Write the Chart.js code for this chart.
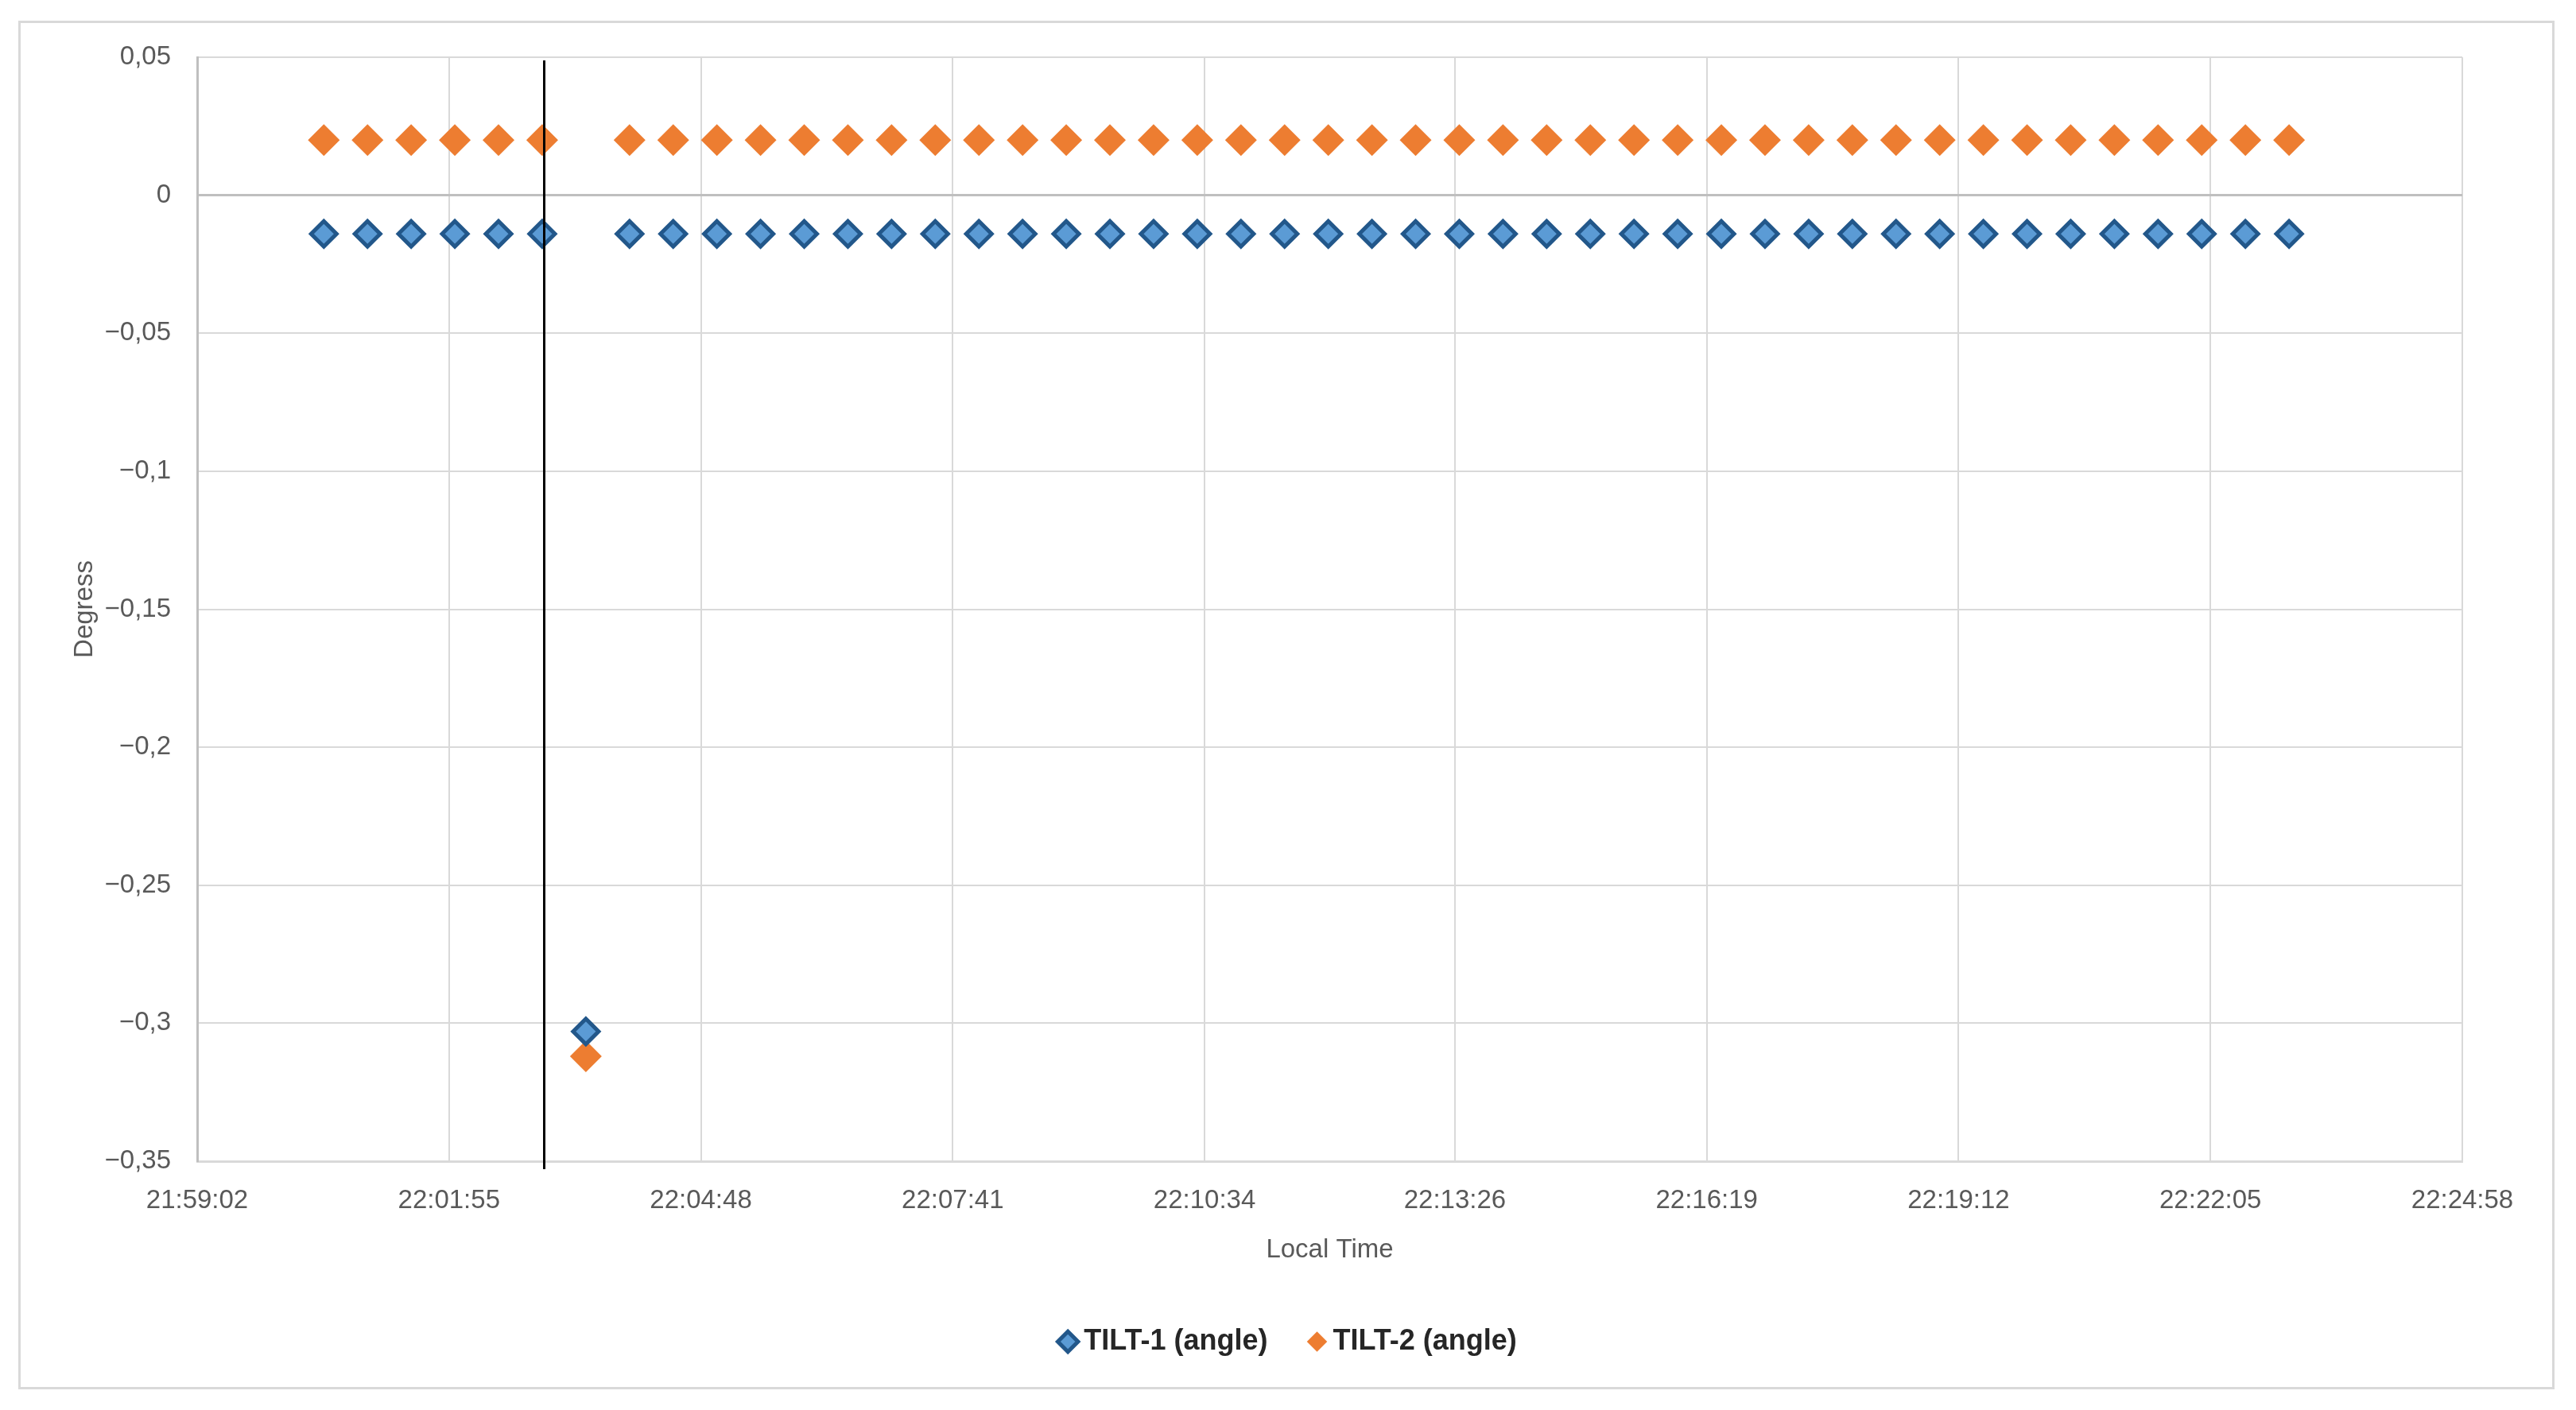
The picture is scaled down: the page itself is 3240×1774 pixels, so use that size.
<!DOCTYPE html>
<html>
<head>
<meta charset="utf-8">
<script src="https://cdn.jsdelivr.net/npm/chart.js@4.4.1/dist/chart.umd.min.js"></script>
<style>
  html, body { margin: 0; padding: 0; background: #fff; }
  canvas { display: block; }
</style>
</head>
<body>
<canvas id="myChart" width="3240" height="1774"></canvas>
<script>
// Hora local de cada lectura
const times = [
  '22:00:29', '22:00:59', '22:01:29', '22:01:59', '22:02:29', '22:02:59',
  '22:03:29', '22:03:59', '22:04:29', '22:04:59', '22:05:29', '22:05:59',
  '22:06:29', '22:06:59', '22:07:29', '22:07:59', '22:08:29', '22:08:59',
  '22:09:29', '22:09:59', '22:10:29', '22:10:59', '22:11:29', '22:11:59',
  '22:12:29', '22:12:59', '22:13:29', '22:13:59', '22:14:29', '22:14:59',
  '22:15:29', '22:15:59', '22:16:29', '22:16:59', '22:17:29', '22:17:59',
  '22:18:29', '22:18:59', '22:19:29', '22:19:59', '22:20:29', '22:20:59',
  '22:21:29', '22:21:59', '22:22:29', '22:22:59',
]

// Lecturas de los inclinómetros (grados)
const tilt1 = [
  -0.014, -0.014, -0.014, -0.014, -0.014, -0.014,
  -0.303, -0.014, -0.014, -0.014, -0.014, -0.014,
  -0.014, -0.014, -0.014, -0.014, -0.014, -0.014,
  -0.014, -0.014, -0.014, -0.014, -0.014, -0.014,
  -0.014, -0.014, -0.014, -0.014, -0.014, -0.014,
  -0.014, -0.014, -0.014, -0.014, -0.014, -0.014,
  -0.014, -0.014, -0.014, -0.014, -0.014, -0.014,
  -0.014, -0.014, -0.014, -0.014,
]
const tilt2 = [
  0.02, 0.02, 0.02, 0.02, 0.02, 0.02,
  -0.312, 0.02, 0.02, 0.02, 0.02, 0.02,
  0.02, 0.02, 0.02, 0.02, 0.02, 0.02,
  0.02, 0.02, 0.02, 0.02, 0.02, 0.02,
  0.02, 0.02, 0.02, 0.02, 0.02, 0.02,
  0.02, 0.02, 0.02, 0.02, 0.02, 0.02,
  0.02, 0.02, 0.02, 0.02, 0.02, 0.02,
  0.02, 0.02, 0.02, 0.02,
]

// Etiquetas de los ejes
const xTickLabels = [
  '21:59:02', '22:01:55', '22:04:48', '22:07:41', '22:10:34',
  '22:13:26', '22:16:19', '22:19:12', '22:22:05', '22:24:58',
]
const yTickLabels = ['0,05', '0', '−0,05', '−0,1', '−0,15', '−0,2', '−0,25', '−0,3', '−0,35']

// Momento marcado con la línea vertical
const markerTime = '22:03:00'

// hh:mm:ss -> segundos desde medianoche
const toSeconds = (t) => {
  const [h, m, s] = t.split(':').map(Number)
  return h * 3600 + m * 60 + s
}
const parseLabel = (l) => Number(l.replace('−', '-').replace(',', '.'))

const xTicks = xTickLabels.map(toSeconds)
const yTicks = yTickLabels.map(parseLabel)

const grey = '#595959'
const font = { family: "'Liberation Sans', Arial, sans-serif", size: 33 }

// Marco exterior, línea vertical y desplazamiento de la leyenda
const extras = {
  id: 'extras',
  afterLayout(chart) {
    chart.legend.left += 56
    chart.legend.right += 56
  },
  beforeDraw(chart) {
    const c = chart.ctx
    c.save()
    c.fillStyle = '#fff'
    c.fillRect(0, 0, chart.width, chart.height)
    c.strokeStyle = '#d9d9d9'
    c.lineWidth = 3
    c.strokeRect(24.5, 27.5, 3187, 1719)
    c.restore()
  },
  afterDatasetsDraw(chart) {
    const c = chart.ctx
    const x = Math.round(chart.scales.x.getPixelForValue(toSeconds(markerTime))) + 0.5
    c.save()
    c.strokeStyle = '#000'
    c.lineWidth = 3
    c.beginPath()
    c.moveTo(x, chart.chartArea.top + 4)
    c.lineTo(x, chart.chartArea.bottom + 10)
    c.stroke()
    c.restore()
  },
}

const ctx = document.getElementById('myChart').getContext('2d')

new Chart(ctx, {
  type: 'scatter',
  data: {
    datasets: [
      {
        label: 'TILT-1 (angle)',
        data: times.map((t, i) => ({ x: toSeconds(t), y: tilt1[i] })),
        pointStyle: 'rectRot',
        pointRadius: 16,
        borderWidth: 5,
        backgroundColor: '#5b9bd5',
        borderColor: '#22578a',
        showLine: false,
      },
      {
        label: 'TILT-2 (angle)',
        data: times.map((t, i) => ({ x: toSeconds(t), y: tilt2[i] })),
        pointStyle: 'rectRot',
        pointRadius: 20,
        borderWidth: 0,
        backgroundColor: '#ed7d31',
        borderColor: '#ed7d31',
        showLine: false,
      },
    ],
  },
  options: {
    responsive: false,
    animation: false,
    devicePixelRatio: 1,
    layout: { padding: { left: 40, top: 72, right: 143, bottom: 58 } },
    plugins: {
      tooltip: { enabled: false },
      legend: {
        position: 'bottom',
        labels: {
          usePointStyle: true,
          boxWidth: 4,
          boxHeight: 18,
          padding: 60,
          color: '#262626',
          font: { family: font.family, size: 36, weight: 'bold' },
        },
      },
    },
    scales: {
      x: {
        type: 'linear',
        min: xTicks[0],
        max: xTicks[xTicks.length - 1],
        afterBuildTicks: (scale) => {
          scale.ticks = xTicks.map((v) => ({ value: v }))
        },
        afterFit: (scale) => {
          scale.height = 149
        },
        ticks: {
          autoSkip: false,
          maxRotation: 0,
          padding: 30,
          color: grey,
          font: font,
          callback: (v, i) => xTickLabels[i],
        },
        grid: { color: '#d9d9d9', lineWidth: 2, drawTicks: false },
        border: { color: '#d9d9d9', width: 3 },
        title: {
          display: true,
          text: 'Local Time',
          color: grey,
          font: font,
          padding: { top: 0, bottom: 17 },
        },
      },
      y: {
        min: yTicks[yTicks.length - 1],
        max: yTicks[0],
        afterBuildTicks: (scale) => {
          scale.ticks = yTicks.map((v) => ({ value: v }))
        },
        afterFit: (scale) => {
          scale.width = 208
        },
        ticks: {
          autoSkip: false,
          padding: 33,
          color: grey,
          font: font,
          callback: (v, i) => yTickLabels[i],
        },
        grid: {
          drawTicks: false,
          color: (c) => (c.tick && c.tick.value === 0 ? '#bfbfbf' : '#d9d9d9'),
          lineWidth: (c) => (c.tick && c.tick.value === 0 ? 3 : 2),
        },
        border: { color: '#bfbfbf', width: 3 },
        title: {
          display: true,
          text: 'Degress',
          color: grey,
          font: font,
          padding: { top: 47, bottom: 0 },
        },
      },
    },
  },
  plugins: [extras],
})
</script>
</body>
</html>
